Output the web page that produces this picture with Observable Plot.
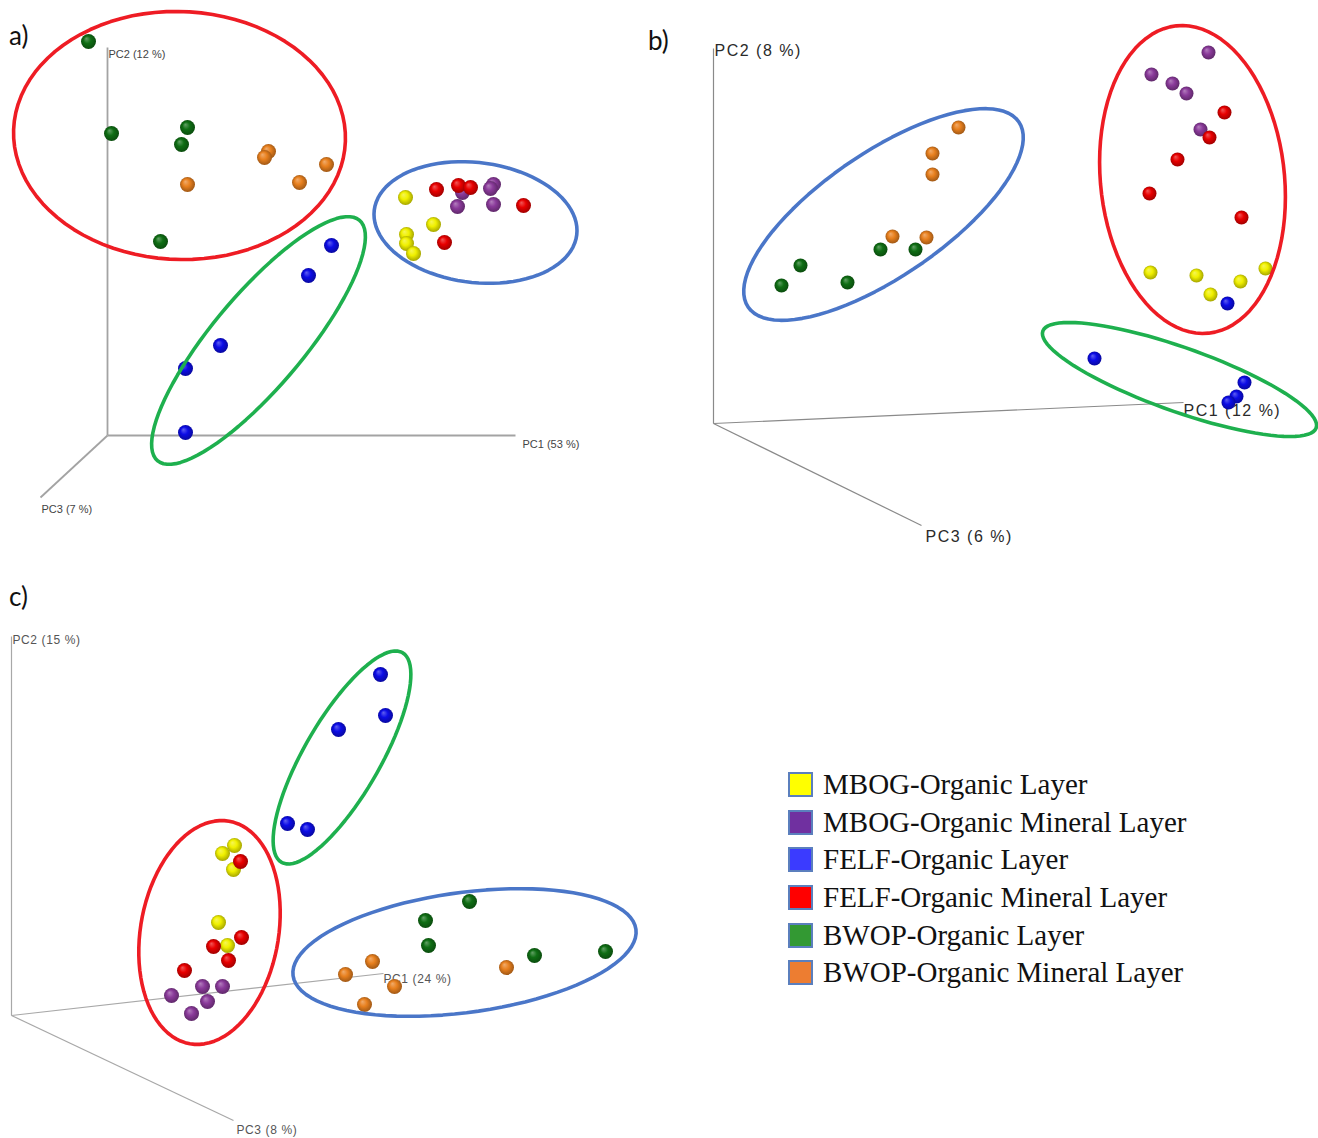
<!DOCTYPE html>
<html><head><meta charset="utf-8">
<script src="https://cdn.jsdelivr.net/npm/d3@7"></script>
<script src="https://cdn.jsdelivr.net/npm/@observablehq/plot@0.6"></script>
<style>
body{margin:0;background:#fff;}
#fig{position:relative;width:1318px;height:1138px;overflow:hidden;background:#fff;}
.panel{position:absolute;}
.plab{position:absolute;font-family:Lato,"Open Sans",sans-serif;font-size:26px;line-height:1;color:#111;}
#legend{position:absolute;left:788px;top:766px;font-family:"Liberation Serif","Times New Roman",serif;font-size:29px;color:#111;}
.row{display:flex;align-items:center;height:37.6px;white-space:nowrap;}
.sw{width:21px;height:21px;border:2px solid #5b7fbd;margin-right:10px;flex:none;}
</style></head>
<body><div id="fig"></div>
<script>
// ---------- data ----------
const groupCodes = ["MBOG-O", "MBOG-OM", "FELF-O", "FELF-OM", "BWOP-O", "BWOP-OM"];
const groupNames = ["MBOG-Organic Layer", "MBOG-Organic Mineral Layer", "FELF-Organic Layer",
                    "FELF-Organic Mineral Layer", "BWOP-Organic Layer", "BWOP-Organic Mineral Layer"];
const legendColors = ["#ffff00", "#7030a0", "#3b3bff", "#ff0000", "#339933", "#ed7d31"];
const sphereColors = ["#f0f000", "#8a3a9a", "#0c0ce6", "#e80000", "#0f6e14", "#e8801e"];

// panel a) projected scores (PC1 right, PC2 up)
const aPoints = [
  ["BWOP-O", -19, 394], ["BWOP-O", 4, 302], ["BWOP-O", 80, 308], ["BWOP-O", 74, 291], ["BWOP-O", 53, 194],
  ["BWOP-OM", 161, 284], ["BWOP-OM", 157, 278], ["BWOP-OM", 219, 271], ["BWOP-OM", 192, 253], ["BWOP-OM", 80, 251],
  ["FELF-O", 224, 190], ["FELF-O", 201, 160], ["FELF-O", 113, 90], ["FELF-O", 78, 67], ["FELF-O", 78, 3],
  ["MBOG-O", 298, 238], ["MBOG-O", 326, 211], ["MBOG-O", 299, 201], ["MBOG-O", 299, 192], ["MBOG-O", 306, 182],
  ["MBOG-OM", 386, 251], ["MBOG-OM", 383, 247], ["MBOG-OM", 355, 243], ["MBOG-OM", 350, 229], ["MBOG-OM", 386, 231],
  ["FELF-OM", 329, 246], ["FELF-OM", 351, 250], ["FELF-OM", 363, 248], ["FELF-OM", 416, 230], ["FELF-OM", 337, 193]
];
const aEllipses = [ // colour, cx, cy, semi-major, semi-minor, angle
  ["#ee1c24", 72, 300, 166, 124, -2],
  ["#1eb04e", 151, 95, 157, 46, 50],
  ["#4a76c8", 368, 213, 102, 60, -7]
];
const aAxisEnds = [[408, 0], [0, 388], [-67, -62]];
const aAxisLabels = [["PC1 (53 %)", 415, -9], ["PC2 (12 %)", 1, 381], ["PC3 (7 %)", -66, -74]];

// panel b)
const bPoints = [
  ["BWOP-OM", 245, 296], ["BWOP-OM", 219, 270], ["BWOP-OM", 219, 249], ["BWOP-OM", 179, 187], ["BWOP-OM", 213, 186],
  ["BWOP-O", 87, 158], ["BWOP-O", 68, 138], ["BWOP-O", 134, 141], ["BWOP-O", 167, 174], ["BWOP-O", 202, 174],
  ["MBOG-OM", 495, 371], ["MBOG-OM", 438, 349], ["MBOG-OM", 459, 340], ["MBOG-OM", 473, 330], ["MBOG-OM", 487, 294],
  ["FELF-OM", 511, 311], ["FELF-OM", 496, 286], ["FELF-OM", 464, 264], ["FELF-OM", 436, 230], ["FELF-OM", 528, 206],
  ["MBOG-O", 437, 151], ["MBOG-O", 483, 148], ["MBOG-O", 552, 155], ["MBOG-O", 527, 142], ["MBOG-O", 497, 129],
  ["FELF-O", 514, 120], ["FELF-O", 381, 65], ["FELF-O", 531, 41], ["FELF-O", 523, 27], ["FELF-O", 515, 21]
];
const bEllipses = [
  ["#4a76c8", 170, 209, 164, 62, 34.4],
  ["#ee1c24", 479, 244, 154.5, 92, 96],
  ["#1eb04e", 466, 44, 145, 32, -19.5]
];
const bAxisEnds = [[470, 21], [0, 375], [208, -102]];
const bAxisLabels = [["PC1 (12 %)", 470, 13], ["PC2 (8 %)", 1, 373], ["PC3 (6 %)", 212, -113]];

// panel c)
const cPoints = [
  ["FELF-O", 369, 341], ["FELF-O", 374, 300], ["FELF-O", 327, 286], ["FELF-O", 276, 192], ["FELF-O", 296, 186],
  ["MBOG-O", 223, 170], ["MBOG-O", 211, 162], ["MBOG-O", 222, 146], ["MBOG-O", 207, 93], ["MBOG-O", 216, 70],
  ["FELF-OM", 229, 154], ["FELF-OM", 230, 78], ["FELF-OM", 202, 69], ["FELF-OM", 217, 55], ["FELF-OM", 173, 45],
  ["MBOG-OM", 191, 29], ["MBOG-OM", 211, 29], ["MBOG-OM", 160, 20], ["MBOG-OM", 196, 14], ["MBOG-OM", 180, 2],
  ["BWOP-O", 458, 114], ["BWOP-O", 414, 95], ["BWOP-O", 417, 70], ["BWOP-O", 523, 60], ["BWOP-O", 594, 64],
  ["BWOP-OM", 361, 54], ["BWOP-OM", 334, 41], ["BWOP-OM", 383, 29], ["BWOP-OM", 495, 48], ["BWOP-OM", 353, 11]
];
const cEllipses = [
  ["#1eb04e", 330.5, 258, 121, 38, 60],
  ["#ee1c24", 198, 83, 113, 69, 80],
  ["#4a76c8", 453, 63, 173, 60, 7.7]
];
const cAxisEnds = [[372, 42], [0, 379], [222, -105]];
const cAxisLabels = [["PC1 (24 %)", 372, 36], ["PC2 (15 %)", 1, 375], ["PC3 (8 %)", 225, -115]];

// ---------- drawing ----------
const fig = document.getElementById("fig");

// sphere shading gradients
const defsSvg = d3.select(fig).append("svg").attr("width", 0).attr("height", 0)
  .style("position", "absolute");
const defs = defsSvg.append("defs");
sphereColors.forEach((c, i) => {
  const g = defs.append("radialGradient").attr("id", "sph-" + i)
    .attr("cx", "50%").attr("cy", "50%").attr("r", "55%").attr("fx", "35%").attr("fy", "30%");
  g.append("stop").attr("offset", "0%").attr("stop-color", d3.interpolateRgb(c, "#ffffff")(0.35));
  g.append("stop").attr("offset", "45%").attr("stop-color", c);
  g.append("stop").attr("offset", "100%").attr("stop-color", d3.color(c).darker(1.2).formatHex());
});

function ellipsePts([color, cx, cy, a, b, deg]) {
  const t = deg * Math.PI / 180;
  return d3.range(0, 360, 4).map(k => {
    const u = k * Math.PI / 180;
    return {x: cx + a * Math.cos(u) * Math.cos(t) - b * Math.sin(u) * Math.sin(t),
            y: cy + a * Math.cos(u) * Math.sin(t) + b * Math.sin(u) * Math.cos(t)};
  });
}

function panel({points, ellipses, axisEnds, axisLabels, left, top, width, height, xDomain, yDomain,
                axisColor, axisWidth, fontSize, labelFill, fontWeight, r, letterSpacing}) {
  const marks = [
    Plot.link(axisEnds, {x1: () => 0, y1: () => 0, x2: d => d[0], y2: d => d[1],
      stroke: axisColor, strokeWidth: axisWidth}),
    Plot.text(axisLabels, {x: d => d[1], y: d => d[2], text: d => d[0], textAnchor: "start",
      fontSize, fill: labelFill, fontWeight, fontFamily: "Liberation Sans, Arial, sans-serif"}),
    ...groupCodes.map((g, i) => Plot.dot(points.filter(p => p[0] === g),
      {x: d => d[1], y: d => d[2], r, fill: `url(#sph-${i})`})),
    ...ellipses.map(e => Plot.line(ellipsePts(e),
      {x: "x", y: "y", curve: "linear-closed", stroke: e[0], strokeWidth: 3.6}))
  ];
  const svg = Plot.plot({
    width, height, margin: 0,
    x: {domain: xDomain, axis: null},
    y: {domain: yDomain, axis: null},
    style: {background: "transparent", letterSpacing: letterSpacing || "normal"},
    marks
  });
  svg.classList.add("panel");
  svg.style.left = left + "px";
  svg.style.top = top + "px";
  fig.appendChild(svg);
}

panel({points: aPoints, ellipses: aEllipses, axisEnds: aAxisEnds, axisLabels: aAxisLabels,
  left: 0, top: 0, width: 620, height: 540, xDomain: [-107, 513], yDomain: [-105, 435],
  axisColor: "#a3a3a3", axisWidth: 1.8, fontSize: 11, labelFill: "#444", fontWeight: 400, r: 7.5});
panel({points: bPoints, ellipses: bEllipses, axisEnds: bAxisEnds, axisLabels: bAxisLabels,
  left: 640, top: 0, width: 678, height: 560, xDomain: [-73, 605], yDomain: [-137, 423],
  axisColor: "#8a8a8a", axisWidth: 1.2, fontSize: 16, labelFill: "#2a2a2a", fontWeight: 400, r: 7,
  letterSpacing: "1.5px"});
panel({points: cPoints, ellipses: cEllipses, axisEnds: cAxisEnds, axisLabels: cAxisLabels,
  left: 0, top: 580, width: 660, height: 558, xDomain: [-11, 649], yDomain: [-123, 435],
  axisColor: "#a8a8a8", axisWidth: 1.2, fontSize: 12, labelFill: "#555", fontWeight: 400, r: 7.5,
  letterSpacing: "0.6px"});

// panel letters
[["a)", 9, 22], ["b)", 648, 27], ["c)", 9, 583]].forEach(([t, x, y]) => {
  const d = document.createElement("div");
  d.className = "plab"; d.textContent = t;
  d.style.left = x + "px"; d.style.top = y + "px";
  fig.appendChild(d);
});

// legend
const legend = document.createElement("div");
legend.id = "legend";
groupNames.forEach((n, i) => {
  const row = document.createElement("div");
  row.className = "row";
  const sw = document.createElement("span");
  sw.className = "sw"; sw.style.background = legendColors[i];
  const tx = document.createElement("span");
  tx.textContent = n;
  row.appendChild(sw); row.appendChild(tx);
  legend.appendChild(row);
});
fig.appendChild(legend);
</script>
</body></html>
